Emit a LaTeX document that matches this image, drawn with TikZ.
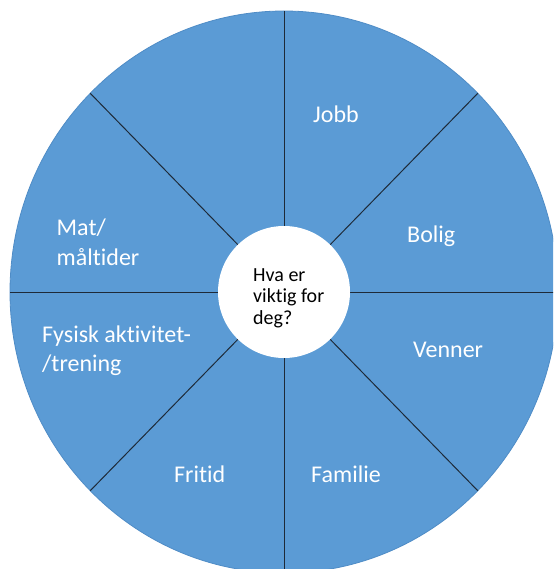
\documentclass[tikz,border=0pt]{standalone}
\usepackage{fontspec}
\setmainfont{Carlito}[Ligatures=NoCommon]
\definecolor{wheelblue}{HTML}{5B9BD5}
\definecolor{rimblue}{HTML}{4F8CC6}
\definecolor{spokedark}{HTML}{1E2A38}
\tikzset{
  spokeline/.style={draw=spokedark, line width=1pt},
  hub/.style={circle, fill=white, minimum size=132pt, inner sep=0pt},
  topic/.style={text=white, font=\fontsize{24}{29.5}\selectfont, anchor=base west, inner sep=0pt, align=left},
  question/.style={text=black, font=\fontsize{20}{21.5}\selectfont, anchor=base west, inner sep=0pt, align=left}
}
\begin{document}
\begin{tikzpicture}[x=1pt, y=-1pt]
        \clip (0,0) rectangle (553,569);
        \coordinate (C) at (284,292);

        \fill[wheelblue, draw=rimblue, line width=0.8pt] (C) ellipse [x radius=274, y radius=281];
        \foreach \a in {0,45,...,315}
          \draw[spokeline] (C) -- ++(\a:274 and 281);

        % multi-line nodes sit on the baseline of their last line
        \node[hub] (hub) at (C) {};
        \node[question] (ask) at (253,324) {Hva er\\viktig for\\deg?};

        \node[topic] (jobb) at (313,122.5) {Jobb};
        \node[topic] (bolig) at (407,242) {Bolig};
        \node[topic] (venner) at (413,357) {Venner};
        \node[topic] (familie) at (311,482.5) {Familie};
        \node[topic] (fritid) at (174,482.5) {Fritid};
        \node[topic] (trening) at (42,371.5) {Fysisk aktivitet-\\/trening};
        \node[topic] (mat) at (56.5,265) {Mat/\\måltider};
      \end{tikzpicture}
\end{document}
